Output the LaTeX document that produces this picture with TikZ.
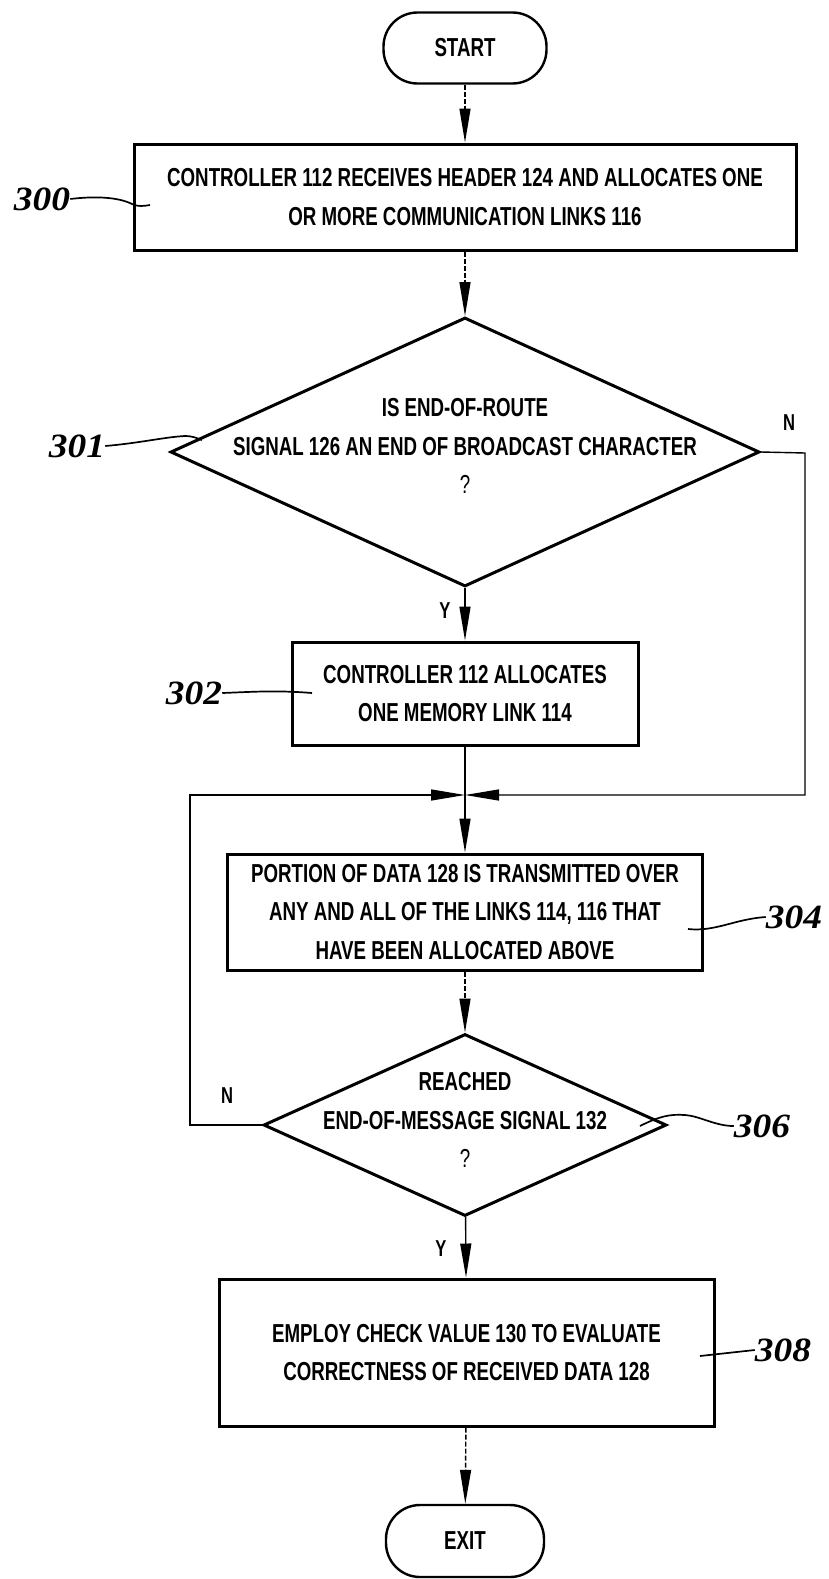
\documentclass[tikz,border=0pt]{standalone}
\usepackage{fontspec}
\usetikzlibrary{shapes.geometric,arrows.meta}
\setmainfont{Liberation Sans}
\newfontfamily\condfont[FakeStretch=0.72]{Liberation Sans}
\newfontfamily\numfont[FakeStretch=1.1]{Liberation Serif}
\begin{document}
\begin{tikzpicture}[x=1pt,y=-1pt,
  txt/.style={font=\condfont\bfseries\fontsize{26}{38.5}\selectfont, align=center, inner sep=0pt},
  yn/.style={font=\condfont\bfseries\fontsize{23}{26}\selectfont, inner sep=0pt},
  ref/.style={font=\numfont\bfseries\itshape\fontsize{34}{38}\selectfont, inner sep=0pt},
  box/.style={draw, line width=3pt, rectangle, inner sep=0pt, txt},
  term/.style={draw, line width=2.4pt, rectangle, rounded corners=34pt, inner sep=0pt, txt},
  dia/.style={draw, line width=3pt, diamond, inner sep=0pt},
  conn/.style={line width=1.4pt},
  arr/.style={-{Triangle[length=34pt,width=11pt]}},
  dsh/.style={dash pattern=on 5pt off 2pt},
  lead/.style={line width=1.7pt}]
\useasboundingbox (0,0) rectangle (829,1579);

% nodes
\node[term, minimum width=163pt, minimum height=71pt] (start) at (465,48) {START};
\node[box, minimum width=662pt, minimum height=106pt] (b300) at (465,197)
  {CONTROLLER 112 RECEIVES HEADER 124 AND ALLOCATES ONE\\OR MORE COMMUNICATION LINKS 116};
\node[dia, minimum width=589pt, minimum height=269pt] (d301) at (465,452) {};
\node[txt] (t301) at (465,446) {IS END-OF-ROUTE\\SIGNAL 126 AN END OF BROADCAST CHARACTER\\{\mdseries ?}};
\node[box, minimum width=346pt, minimum height=103pt] (b302) at (465,693.5)
  {CONTROLLER 112 ALLOCATES\\ONE MEMORY LINK 114};
\coordinate (j) at (465,795);
\node[box, minimum width=475pt, minimum height=116pt] (b304) at (465,912)
  {PORTION OF DATA 128 IS TRANSMITTED OVER\\ANY AND ALL OF THE LINKS 114, 116 THAT\\HAVE BEEN ALLOCATED ABOVE};
\node[dia, minimum width=403pt, minimum height=182pt] (d306) at (465,1125) {};
\node[txt] (t306) at (465,1120) {REACHED\\END-OF-MESSAGE SIGNAL 132\\{\mdseries ?}};
\node[box, minimum width=495pt, minimum height=147pt] (b308) at (466.5,1352.5)
  {EMPLOY CHECK VALUE 130 TO EVALUATE\\CORRECTNESS OF RECEIVED DATA 128};
\node[term, minimum width=158pt, minimum height=72pt] (exit) at (465,1541) {EXIT};

% Y / N labels
\node[yn] (n301) at (789,423) {N};
\node[yn] (y301) at (445,611) {Y};
\node[yn] (n306) at (227,1096) {N};
\node[yn] (y306) at (441,1249) {Y};

% reference numerals
\node[ref] (l300) at (42,199) {300};
\node[ref] (l301) at (77,446) {301};
\node[ref] (l302) at (194,693) {302};
\node[ref] (l304) at (794,917) {304};
\node[ref] (l306) at (762,1126) {306};
\node[ref] (l308) at (783,1350) {308};

\coordinate (e300) at (150,205);
\coordinate (e301) at (202,440);
\coordinate (e302) at (312,693);
\coordinate (e304) at (688,929);
\coordinate (e306) at (640,1126);
\coordinate (e308) at (700,1356);
\coordinate (nr) at (805,453);
\coordinate (nl) at (190,795);

% connectors
\draw[conn,dsh,arr] (start) -- (b300);
\draw[conn,dsh,arr] (b300) -- (d301);
\draw[conn,arr] (d301) -- (b302);
\draw[conn] (b302) -- (j);
\draw[conn,arr] (d301.east) -- (nr) |- (j);
\draw[conn,arr] (d306.west) -| (nl) -- (j);
\draw[conn,arr] (j) -- (b304);
\draw[conn,dsh,arr] (b304) -- (d306);
\draw[conn,arr] (d306) -- (b308);
\draw[conn,dsh,arr] (b308) -- (exit);

% leaders
\draw[lead] (l300.east) .. controls (95,196) and (118,197) .. (132,204) .. controls (138,207) and (144,206) .. (e300);
\draw[lead] (l301.east) .. controls (140,443) and (165,437) .. (185,436) .. controls (195,436) and (200,440) .. (e301);
\draw[lead] (l302.east) .. controls (250,692) and (275,690) .. (e302);
\draw[lead] (e304) .. controls (715,932) and (735,919) .. (l304.west);
\draw[lead] (e306) .. controls (660,1116) and (670,1114) .. (685,1115) .. controls (700,1116) and (715,1126) .. (l306.west);
\draw[lead] (e308) -- (l308.west);
\end{tikzpicture}
\end{document}
